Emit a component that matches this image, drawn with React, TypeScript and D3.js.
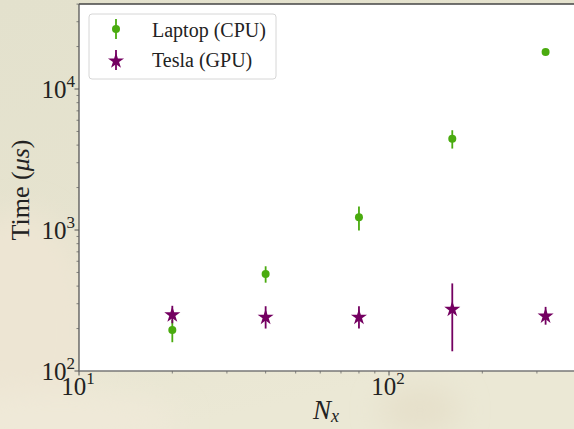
import React from 'react';
import * as d3 from 'd3';

// grid sizes N_x
const nx = [20, 40, 80, 160, 320];
// laptop (CPU) times in microseconds and their errors
const laptopTime = [195, 488, 1230, 4440, 18280];
const laptopErr = [35, 65, 240, 660, 150];
// tesla (GPU) times in microseconds and their errors
const teslaTime = [254, 244, 244, 278, 249];
const teslaErr = [36, 44, 44, 140, 36];

const legendLabels = ['Laptop (CPU)', 'Tesla (GPU)'];
const xTickExp = [1, 2];
const yTickExp = [2, 3, 4];

const W = 574;
const H = 429;
const green = '#4aab0f';
const purple = '#740061';
const serif = '"Liberation Serif", "Times New Roman", serif';

function App() {
  const x = d3.scaleLog().domain([10, 1000]).range([79, 699]);
  const y = d3.scaleLog().domain([100, 10000]).range([371, 89]);
  const top = 4;
  const right = W;
  const bottom = y(100);
  const left = x(10);

  const xMinor: number[] = [];
  for (let d = 10; d <= 100; d *= 10) {
    for (let k = 2; k <= 9; k++) if (x(k * d) < right) xMinor.push(k * d);
  }
  const yMinor: number[] = [];
  for (let d = 100; d <= 10000; d *= 10) {
    for (let k = 2; k <= 9; k++) if (y(k * d) > top) yMinor.push(k * d);
  }

  const star = d3.symbol().type(d3.symbolStar).size(80)();

  return (
    <svg width={W} height={H} style={{ position: 'absolute', left: 0, top: 0 }}>
      <defs>
        <linearGradient id="bg" x1="0" y1="0" x2="0.3" y2="1">
          <stop offset="0" stopColor="#e3e1cd" />
          <stop offset="0.55" stopColor="#e6e3cf" />
          <stop offset="1" stopColor="#ebe8d5" />
        </linearGradient>
        <filter id="blur" x="-50%" y="-50%" width="200%" height="200%">
          <feGaussianBlur stdDeviation="14" />
        </filter>
      </defs>
      <rect width={W} height={H} fill="url(#bg)" />
      <ellipse cx={20} cy={330} rx={70} ry={120} fill="#ede5d3" filter="url(#blur)" />
      <ellipse cx={60} cy={420} rx={120} ry={30} fill="#efe9d8" filter="url(#blur)" />
      <ellipse cx={420} cy={410} rx={40} ry={25} fill="#e6e0cb" filter="url(#blur)" />

      {/* plot area */}
      <rect x={left} y={top} width={right - left} height={bottom - top} fill="#ffffff" />

      {/* laptop error bars + points */}
      {nx.map((n, i) => (
        <g key={'l' + i}>
          <line x1={x(n)} x2={x(n)} y1={y(laptopTime[i] - laptopErr[i])} y2={y(laptopTime[i] + laptopErr[i])}
            stroke={green} strokeWidth={1.8} />
          <circle cx={x(n)} cy={y(laptopTime[i])} r={4} fill={green} />
        </g>
      ))}
      {/* tesla error bars + points */}
      {nx.map((n, i) => (
        <g key={'t' + i}>
          <line x1={x(n)} x2={x(n)} y1={y(teslaTime[i] - teslaErr[i])} y2={y(teslaTime[i] + teslaErr[i])}
            stroke={purple} strokeWidth={1.8} />
          <path d={star!} transform={`translate(${x(n)},${y(teslaTime[i]) + 1})`} fill={purple} />
        </g>
      ))}

      {/* spines */}
      <line x1={left} x2={right} y1={top} y2={top} stroke="#444" strokeWidth={1.3} />
      <line x1={left} x2={left} y1={top} y2={bottom} stroke="#555" strokeWidth={1.3} />
      <line x1={left} x2={right} y1={bottom} y2={bottom} stroke="#777" strokeWidth={1.3} />

      {/* y ticks */}
      {yTickExp.map(e => (
        <g key={'ym' + e}>
          <line x1={left - 4.5} x2={left} y1={y(Math.pow(10, e))} y2={y(Math.pow(10, e))} stroke="#555" strokeWidth={1} />
          <text x={left - 4} y={y(Math.pow(10, e)) + 9} textAnchor="end" fontFamily={serif} fontSize={25} fill="#222">
            10<tspan fontSize={17} dy={-11}>{e}</tspan>
          </text>
        </g>
      ))}
      {yMinor.map((v, i) => (
        <line key={'yn' + i} x1={left - 2.5} x2={left} y1={y(v)} y2={y(v)} stroke="#666" strokeWidth={0.8} />
      ))}

      {/* x ticks */}
      {xTickExp.map(e => (
        <g key={'xm' + e}>
          <line x1={x(Math.pow(10, e))} x2={x(Math.pow(10, e))} y1={bottom} y2={bottom + 4.5} stroke="#555" strokeWidth={1} />
          <text x={x(Math.pow(10, e)) - 1} y={bottom + 24} textAnchor="middle" fontFamily={serif} fontSize={25} fill="#222">
            10<tspan fontSize={17} dy={-11}>{e}</tspan>
          </text>
        </g>
      ))}
      {xMinor.map((v, i) => (
        <line key={'xn' + i} x1={x(v)} x2={x(v)} y1={bottom} y2={bottom + 2.5} stroke="#666" strokeWidth={0.8} />
      ))}

      {/* axis labels */}
      <text transform="translate(29,190) rotate(-90)" textAnchor="middle" fontFamily={serif} fontSize={26} fill="#222">
        Time (<tspan fontStyle="italic">μs</tspan>)
      </text>
      <text x={313} y={419} fontFamily={serif} fontSize={27} fontStyle="italic" fill="#222">
        N<tspan fontSize={18} dy={3}>x</tspan>
      </text>

      {/* legend */}
      <rect x={89} y={14} width={187} height={65} rx={3} fill="#fff" fillOpacity={0.9} stroke="#d6d6d6" strokeWidth={1} />
      <line x1={116} x2={116} y1={19} y2={39} stroke={green} strokeWidth={1.8} />
      <circle cx={116} cy={29} r={4} fill={green} />
      <line x1={116} x2={116} y1={50} y2={70} stroke={purple} strokeWidth={1.8} />
      <path d={star!} transform="translate(116,61)" fill={purple} />
      {legendLabels.map((t, i) => (
        <text key={t} x={152} y={37 + i * 29.5} fontFamily={serif} fontSize={20} fill="#222">{t}</text>
      ))}
    </svg>
  );
}

export default App;
